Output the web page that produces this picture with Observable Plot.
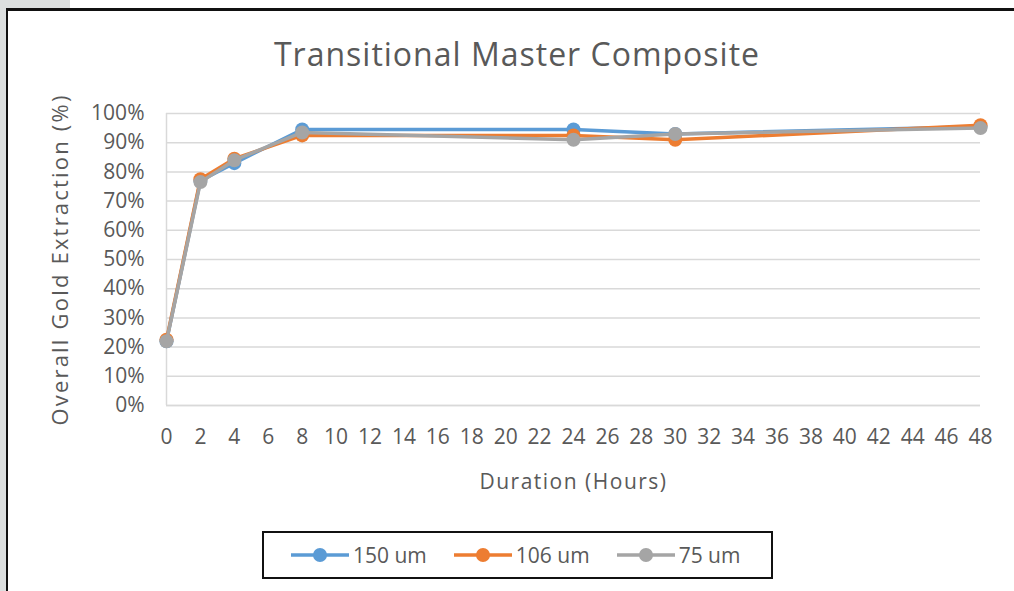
<!DOCTYPE html>
<html>
<head>
<meta charset="utf-8">
<script src="https://cdn.jsdelivr.net/npm/d3@7"></script>
<script src="https://cdn.jsdelivr.net/npm/@observablehq/plot@0.6"></script>
<style>
  html, body { margin: 0; padding: 0; background: #fff; }
  #wrap { position: relative; width: 1014px; height: 591px; overflow: hidden; background: #fff; font-family: "Open Sans", sans-serif; }
  #stripTop { position: absolute; left: 0; top: 0; width: 70px; height: 8px; background: #dcdfdf; }
  #stripLeft { position: absolute; left: 0; top: 0; width: 6px; height: 591px; background: #dcdfdf; }
  #frame { position: absolute; left: 6px; top: 8px; width: 1100px; height: 700px; border-left: 2.5px solid #111; border-top: 3px solid #111; box-sizing: border-box; }
  #chart { position: absolute; left: 0; top: 0; }
  #title { position: absolute; left: 0; width: 1034px; top: 32px; text-align: center; font-size: 32px; letter-spacing: 1px; line-height: 44px; color: #595959; white-space: nowrap; }
  #legend { position: absolute; left: 262px; top: 531px; width: 511px; height: 48px; border: 2px solid #111; box-sizing: border-box; display: flex; align-items: center; padding-left: 27px; font-size: 21px; color: #595959; background: #fff; }
  .item { display: flex; align-items: center; margin-right: 27px; }
  .item svg { margin-right: 4px; }
  #chart g[aria-label="y-axis label"] text { font-size: 22px; letter-spacing: 2.2px; }
  #chart g[aria-label="x-axis label"] text { font-size: 21px; letter-spacing: 1.5px; }
</style>
</head>
<body>
<div id="wrap">
  <div id="stripTop"></div>
  <div id="stripLeft"></div>
  <div id="frame"></div>
  <div id="chart"></div>
  <div id="title"></div>
  <div id="legend"></div>
</div>
<script>
const titleText = "Transitional Master Composite";
const xLabel = "Duration (Hours)";
const yLabel = "Overall Gold Extraction (%)";

const hours = [0, 2, 4, 8, 24, 30, 48];
const ext150 = [22, 77, 83, 94.5, 94.5, 93, 95.5];
const ext106 = [22.5, 77.5, 84.5, 92.5, 92.5, 91, 96];
const ext75  = [22, 76.5, 84, 93.5, 91, 93, 95];

const seriesNames  = ["150 um", "106 um", "75 um"];
const seriesColors = ["#5b9bd5", "#ed7d31", "#a5a5a5"];
const seriesValues = [ext150, ext106, ext75];

const xTicks = [0,2,4,6,8,10,12,14,16,18,20,22,24,26,28,30,32,34,36,38,40,42,44,46,48];
const yTicks = [0,10,20,30,40,50,60,70,80,90,100];

const rows = seriesNames.flatMap((name, i) =>
  hours.map((h, j) => ({ series: name, hours: h, value: seriesValues[i][j] }))
);

const gridColor = "#d9d9d9";

const seriesMarks = seriesNames.flatMap((name, i) => {
  const d = rows.filter(r => r.series === name);
  return [
    Plot.line(d, { x: "hours", y: "value", stroke: seriesColors[i], strokeWidth: 3.5 }),
    Plot.dot(d, { x: "hours", y: "value", r: 7, fill: seriesColors[i], stroke: "none" })
  ];
});

const chart = Plot.plot({
  width: 1014,
  height: 591,
  marginLeft: 166,
  marginRight: 34,
  marginTop: 113,
  marginBottom: 186,
  style: { fontFamily: "'Open Sans', sans-serif", fontSize: "21px", color: "#595959", background: "transparent", overflow: "visible" },
  x: { domain: [0, 48] },
  y: { domain: [0, 100] },
  marks: [
    Plot.gridY(yTicks, { stroke: gridColor, strokeOpacity: 1, strokeWidth: 1.5 }),
    Plot.ruleX([0], { stroke: gridColor, strokeWidth: 1.5 }),
    Plot.ruleY([0], { stroke: gridColor, strokeWidth: 1.5 }),
    Plot.axisX(xTicks, { tickSize: 0, tickPadding: 24, fontSize: 21, label: xLabel, labelAnchor: "center", labelArrow: "none", labelOffset: 83, fill: "#595959" }),
    Plot.axisY(yTicks, { tickSize: 0, tickPadding: 22, fontSize: 21, tickFormat: d => d + "%", label: yLabel, labelAnchor: "center", labelArrow: "none", labelOffset: 114, fill: "#595959" }),
    ...seriesMarks
  ]
});
document.getElementById("chart").appendChild(chart);
document.getElementById("title").textContent = titleText;

const legend = document.getElementById("legend");
seriesNames.forEach((name, i) => {
  const item = document.createElement("div");
  item.className = "item";
  const ns = "http://www.w3.org/2000/svg";
  const svg = document.createElementNS(ns, "svg");
  svg.setAttribute("width", "58");
  svg.setAttribute("height", "16");
  const ln = document.createElementNS(ns, "line");
  ln.setAttribute("x1", "0"); ln.setAttribute("x2", "58");
  ln.setAttribute("y1", "8"); ln.setAttribute("y2", "8");
  ln.setAttribute("stroke", seriesColors[i]); ln.setAttribute("stroke-width", "3.5");
  const c = document.createElementNS(ns, "circle");
  c.setAttribute("cx", "29"); c.setAttribute("cy", "8"); c.setAttribute("r", "7");
  c.setAttribute("fill", seriesColors[i]);
  svg.appendChild(ln); svg.appendChild(c);
  const t = document.createElement("span");
  t.textContent = name;
  item.appendChild(svg); item.appendChild(t);
  legend.appendChild(item);
});
</script>
</body>
</html>
